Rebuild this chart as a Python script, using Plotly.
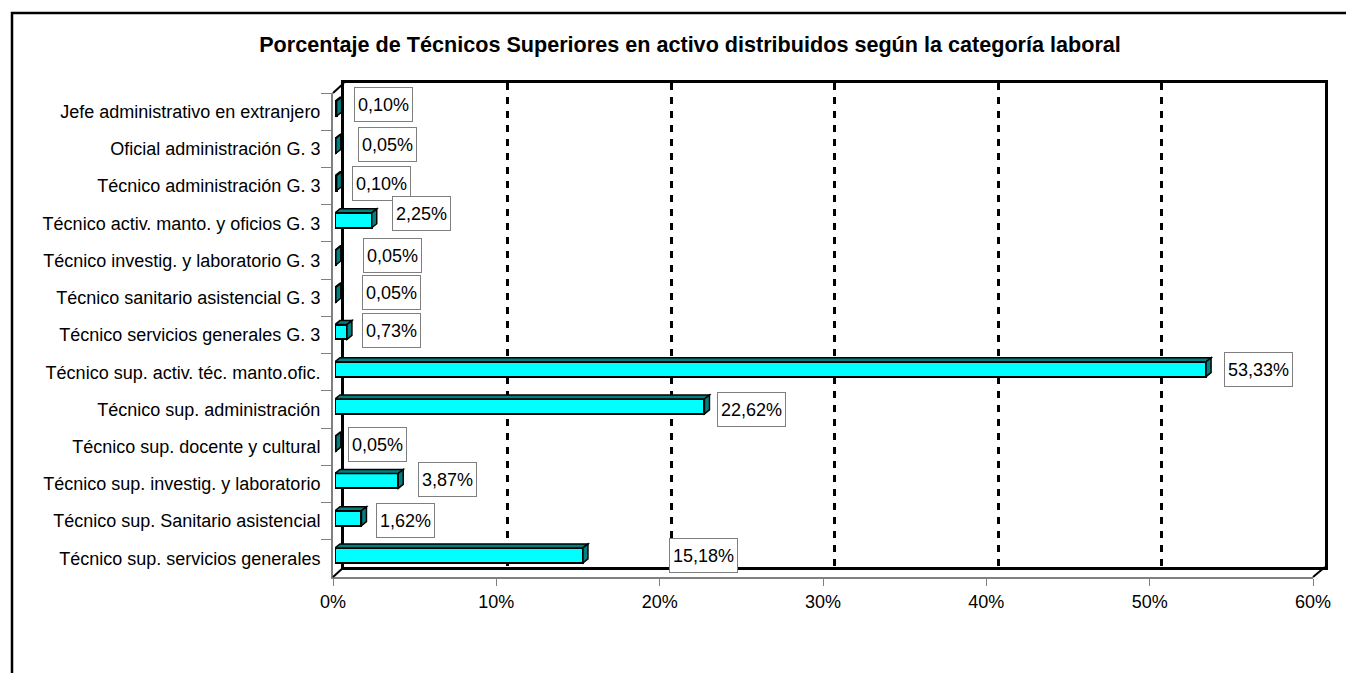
import plotly.graph_objects as go

# ---------------- data ----------------
categories = [
    "Jefe administrativo en extranjero",
    "Oficial administración G. 3",
    "Técnico administración G. 3",
    "Técnico activ. manto. y oficios G. 3",
    "Técnico investig. y laboratorio G. 3",
    "Técnico sanitario asistencial G. 3",
    "Técnico servicios generales G. 3",
    "Técnico sup. activ. téc. manto.ofic.",
    "Técnico sup. administración",
    "Técnico sup. docente y cultural",
    "Técnico sup. investig. y laboratorio",
    "Técnico sup. Sanitario asistencial",
    "Técnico sup. servicios generales",
]
values = [0.10, 0.05, 0.10, 2.25, 0.05, 0.05, 0.73, 53.33, 22.62, 0.05, 3.87, 1.62, 15.18]
x_ticks = [0, 10, 20, 30, 40, 50, 60]
title = "Porcentaje de Técnicos Superiores en activo distribuidos según la categoría laboral"

# ---------------- layout / style (pixels) ----------------
W, H = 1346, 673
FONT = "Liberation Sans, Arial, Helvetica, sans-serif"
FS = 18
FRONT = dict(x0=333, x1=1313, y0=93, y1=577)
BACK = dict(x0=344, x1=1325, y0=83, y1=567)
BARP = dict(x0=335, x1=1315, y0=90, y1=574)
BAR_W = 0.40
DEPTH_PX = (5, 4)
LABEL_DX = [17, 22, 15, 20, 27, 26, 15, 18, 13, 12, 20, 15, 86]
LABEL_DY = [4.6, 1.8, -0.5, 6.7, 1.9, 2.1, 1.8, -0.5, -2.8, -0.6, 1.6, -2.2, 0]


def xdom(p):
    return [p["x0"] / W, p["x1"] / W]


def ydom(p):
    return [1 - p["y1"] / H, 1 - p["y0"] / H]


n = len(categories)
idx = list(range(n))
xmax = x_ticks[-1]

fig = go.Figure()

fig.add_trace(go.Scatter(x=values, y=idx, mode="markers", marker=dict(opacity=0),
                         xaxis="x", yaxis="y", hoverinfo="skip", showlegend=False))
fig.add_trace(go.Scatter(x=values, y=categories, mode="markers", marker=dict(opacity=0),
                         xaxis="x2", yaxis="y2", hoverinfo="skip", showlegend=False))
fig.add_trace(go.Bar(x=values, y=idx, orientation="h", width=BAR_W,
                     marker=dict(color="#00FFFF", line=dict(color="black", width=2)),
                     xaxis="x3", yaxis="y3", showlegend=False, hoverinfo="x+text",
                     text=categories, textposition="none"))

px_per_x = (BARP["x1"] - BARP["x0"]) / xmax
px_per_y = (BARP["y1"] - BARP["y0"]) / n
ddx = DEPTH_PX[0] / px_per_x
ddy = DEPTH_PX[1] / px_per_y
shapes = []
for i, v in zip(idx, values):
    top = i - BAR_W / 2
    bot = i + BAR_W / 2
    shapes.append(dict(type="path", xref="x3", yref="y3", layer="above",
                       path=f"M0,{top} L{ddx},{top - ddy} L{v + ddx},{top - ddy} L{v},{top} Z",
                       fillcolor="#008080", line=dict(color="black", width=1.5)))
    shapes.append(dict(type="path", xref="x3", yref="y3", layer="above",
                       path=f"M{v},{top} L{v + ddx},{top - ddy} L{v + ddx},{bot - ddy} L{v},{bot} Z",
                       fillcolor="#008080", line=dict(color="black", width=1.5)))


def P(x, y):
    return x / W, 1 - y / H


for (fx, fy), (bx, by) in [((FRONT["x0"], FRONT["y0"]), (BACK["x0"], BACK["y0"])),
                           ((FRONT["x0"], FRONT["y1"]), (BACK["x0"], BACK["y1"])),
                           ((FRONT["x1"], FRONT["y1"]), (BACK["x1"], BACK["y1"]))]:
    a = P(fx, fy)
    b = P(bx, by)
    shapes.append(dict(type="line", xref="paper", yref="paper", x0=a[0], y0=a[1], x1=b[0], y1=b[1],
                       line=dict(color="black", width=2), layer="above"))

shapes.append(dict(type="rect", xref="paper", yref="paper", x0=12 / W, y0=-0.05, x1=1.05, y1=1 - 13 / H,
                   line=dict(color="black", width=2.5), fillcolor="rgba(0,0,0,0)", layer="below"))

annotations = []
for i, v in enumerate(values):
    annotations.append(dict(
        x=v, y=i, xref="x3", yref="y3", xanchor="left", yanchor="middle",
        xshift=LABEL_DX[i], yshift=LABEL_DY[i],
        text=f"{v:.2f}%".replace(".", ","), showarrow=False,
        font=dict(family=FONT, size=FS, color="black"),
        bgcolor="white", bordercolor="#7f7f7f", borderwidth=1, borderpad=3, height=27,
    ))

fig.update_layout(
    template="none",
    width=W, height=H,
    margin=dict(l=0, r=0, t=0, b=0, pad=0, autoexpand=False),
    paper_bgcolor="white", plot_bgcolor="rgba(0,0,0,0)",
    font=dict(family=FONT, size=FS, color="black"),
    title=dict(text=f"<b>{title}</b>", x=690 / W, xanchor="center", y=1 - 44 / H, yanchor="middle",
               xref="paper", yref="paper",
               font=dict(family=FONT, size=21.6, color="black")),
    shapes=shapes, annotations=annotations,
    bargap=0,
    xaxis=dict(domain=xdom(BACK), anchor="y", range=[0, xmax], tickmode="array", automargin=False,
               tickvals=x_ticks[1:-1], showticklabels=False, ticks="",
               showgrid=True, gridcolor="black", gridwidth=3, griddash="7px,7px",
               zeroline=False, showline=True, mirror=True, linecolor="black", linewidth=3),
    yaxis=dict(domain=ydom(BACK), anchor="x", range=[n - 0.5, -0.5], showgrid=False, automargin=False,
               showticklabels=False, ticks="", zeroline=False,
               showline=True, mirror=True, linecolor="black", linewidth=3),
    xaxis2=dict(domain=xdom(FRONT), anchor="y2", range=[0, xmax], tickmode="array", automargin=False,
                tickvals=x_ticks, ticktext=[f"{t}%" for t in x_ticks],
                ticks="outside", ticklen=7, tickcolor="#808080", tickwidth=1,
                showgrid=False, zeroline=False, showline=True, linecolor="#808080", linewidth=2,
                tickfont=dict(family=FONT, size=FS, color="black")),
    yaxis2=dict(domain=ydom(FRONT), anchor="x2", type="category", categoryorder="array", automargin=False,
                categoryarray=categories, range=[n - 0.5, -0.5], tickson="boundaries",
                ticks="outside", ticklen=10, tickcolor="#808080", tickwidth=1, ticklabelstandoff=7,
                showgrid=False, zeroline=False, showline=True, linecolor="#808080", linewidth=2,
                tickfont=dict(family=FONT, size=FS, color="black")),
    xaxis3=dict(domain=xdom(BARP), anchor="y3", range=[0, xmax], visible=False, automargin=False),
    yaxis3=dict(domain=ydom(BARP), anchor="x3", range=[n - 0.5, -0.5], visible=False, automargin=False),
)

fig.write_html("out.html", config={"displayModeBar": False},
               post_script="document.body.style.margin='0';document.body.style.overflow='hidden';")
